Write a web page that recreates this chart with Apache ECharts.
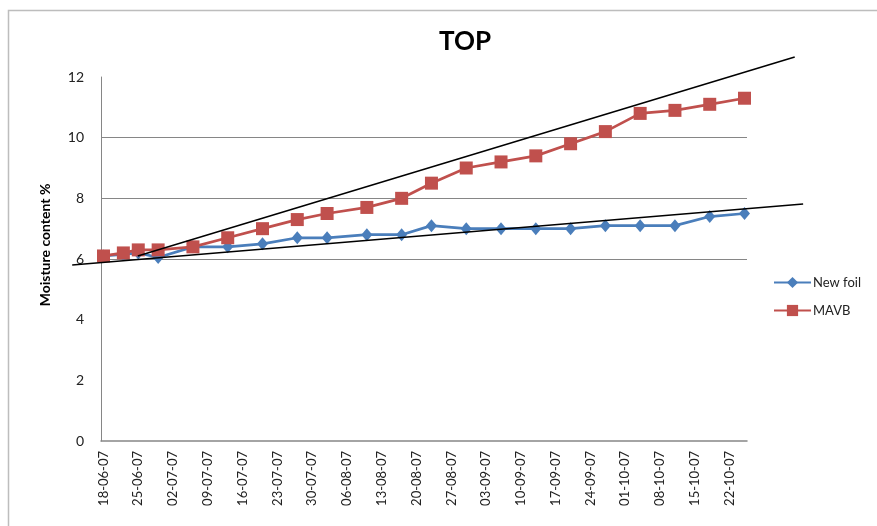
<!DOCTYPE html>
<html>
<head>
<meta charset="utf-8">
<script src="https://cdn.jsdelivr.net/npm/echarts@6/dist/echarts.min.js"></script>
<style>
html,body{margin:0;padding:0;background:#fff;}
#chart{width:877px;height:526px;}
</style>
</head>
<body>
<div id="chart"></div>
<script>
// ---- data ----
const sampleDates = ['18-06-07','22-06-07','25-06-07','29-06-07','06-07-07','13-07-07','20-07-07','27-07-07','02-08-07','10-08-07','17-08-07','23-08-07','30-08-07','06-09-07','13-09-07','20-09-07','27-09-07','04-10-07','11-10-07','18-10-07','25-10-07'];
const newFoil = [6.1, 6.15, 6.2, 6.05, 6.4, 6.4, 6.5, 6.7, 6.7, 6.8, 6.8, 7.1, 7.0, 7.0, 7.0, 7.0, 7.1, 7.1, 7.1, 7.4, 7.5];
const mavb    = [6.1, 6.2, 6.3, 6.3, 6.4, 6.7, 7.0, 7.3, 7.5, 7.7, 8.0, 8.5, 9.0, 9.2, 9.4, 9.8, 10.2, 10.8, 10.9, 11.1, 11.3];
// hand-drawn trend lines: [day index from 18-06-07, value]
const trendUpper = [[6.9, 6.10], [139.1, 12.66]];
const trendLower = [[-6.3, 5.80], [140.8, 7.81]];
const axisStart = '2007-06-18';
const axisDays = 130;
const tickEvery = 7;
const yTicks = [0, 2, 4, 6, 8, 10, 12];
const visibleGrid = [6, 8, 10];

// ---- build daily category axis ----
function fmt(d){
  const dd = String(d.getUTCDate()).padStart(2,'0');
  const mm = String(d.getUTCMonth()+1).padStart(2,'0');
  const yy = String(d.getUTCFullYear()).slice(2);
  return dd + '-' + mm + '-' + yy;
}
const days = [];
const t0 = Date.parse(axisStart + 'T00:00:00Z');
for (let i = 0; i < axisDays; i++) days.push(fmt(new Date(t0 + i * 86400000)));

// main plot box
const W = 877, H = 526;
const G = { left: 101, right: 130, top: 77, bottom: 85 };
const plotW = W - G.left - G.right, plotH = H - G.top - G.bottom;
const pxPerDay = plotW / axisDays, pxPerUnit = plotH / 12;
// wider overlay grid for the hand-drawn lines that run past the plot box
const G2 = { left: 55, right: 55, top: 40, bottom: 85 };
const x2min = -0.5 - (G.left - G2.left) / pxPerDay;
const x2max = axisDays - 0.5 + (G.right - G2.right) / pxPerDay;
const y2max = 12 + (G.top - G2.top) / pxPerUnit;

const font = 'Lato, "Open Sans", "DejaVu Sans", sans-serif';
const chart = echarts.init(document.getElementById('chart'));
chart.setOption({
  animation: false,
  backgroundColor: '#fff',
  graphic: [{
    type: 'rect', left: 6, top: 8, z: -10,
    shape: { x: 0, y: 0, width: 1000, height: 700 },
    style: { fill: 'none', stroke: '#bdbdbd', lineWidth: 1.5 }
  }, {
    type: 'text', x: 45, y: 245, rotation: Math.PI / 2,
    style: { text: 'Moisture content %', fontFamily: font, fontWeight: 'bold', fontSize: 14, fill: '#000',
      align: 'center', verticalAlign: 'middle' }
  }],
  title: {
    text: 'TOP', left: 460, top: 24, textAlign: 'center',
    textStyle: { fontFamily: font, fontWeight: 'bold', fontSize: 26, color: '#000' }
  },
  legend: {
    orient: 'vertical', left: 773, top: 276, padding: 0,
    itemWidth: 37, itemHeight: 14, itemGap: 15,
    data: ['New foil', 'MAVB'],
    textStyle: { fontFamily: font, fontSize: 13, color: '#222', padding: [0,0,0,-3] }
  },
  grid: [
    { left: G.left, right: G.right, top: G.top, bottom: G.bottom, containLabel: false },
    { left: G2.left, right: G2.right, top: G2.top, bottom: G2.bottom, containLabel: false }
  ],
  xAxis: [{
    type: 'category', data: days, boundaryGap: true, gridIndex: 0,
    axisLine: { lineStyle: { color: '#868686', width: 1.5 } },
    axisTick: { show: false },
    axisLabel: { interval: tickEvery - 1, rotate: 90, margin: 10, fontFamily: font, fontSize: 13, color: '#222' },
    splitLine: { show: false }
  }, {
    type: 'value', gridIndex: 1, min: x2min, max: x2max, show: false
  }],
  yAxis: [{
    type: 'value', min: 0, max: 12, interval: 2, gridIndex: 0,
    axisLine: { show: true, lineStyle: { color: '#868686', width: 1 } },
    axisTick: { show: false },
    axisLabel: { margin: 17, fontFamily: font, fontSize: 14, color: '#222' },
    splitLine: { show: true, lineStyle: { color: yTicks.map(v => visibleGrid.includes(v) ? '#868686' : 'rgba(0,0,0,0)'), width: 1 } }
  }, {
    type: 'value', gridIndex: 1, min: 0, max: y2max, show: false, splitLine: { show: false }
  }],
  series: [{
    name: 'New foil', type: 'line', xAxisIndex: 0, yAxisIndex: 0,
    data: sampleDates.map((d, i) => [d, newFoil[i]]),
    symbol: 'diamond', symbolSize: [11, 13], showAllSymbol: true,
    itemStyle: { color: '#4A7EBB' },
    lineStyle: { color: '#4A7EBB', width: 2.75 },
    z: 2
  }, {
    name: 'MAVB', type: 'line', xAxisIndex: 0, yAxisIndex: 0,
    data: sampleDates.map((d, i) => [d, mavb[i]]),
    symbol: 'rect', symbolSize: 13, showAllSymbol: true,
    itemStyle: { color: '#C0504D' },
    lineStyle: { color: '#C0504D', width: 2.75 },
    z: 3
  }, {
    name: 'trendU', type: 'line', xAxisIndex: 1, yAxisIndex: 1, data: trendUpper,
    symbol: 'none', silent: true,
    lineStyle: { color: '#000', width: 1.5 }, z: 5
  }, {
    name: 'trendL', type: 'line', xAxisIndex: 1, yAxisIndex: 1, data: trendLower,
    symbol: 'none', silent: true,
    lineStyle: { color: '#000', width: 1.5 }, z: 5
  }]
});
</script>
</body>
</html>
